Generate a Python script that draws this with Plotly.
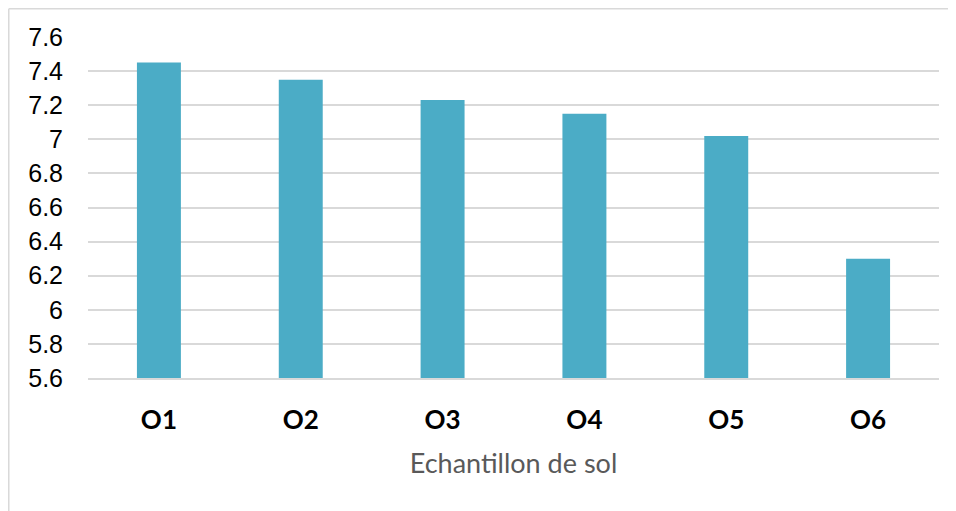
import plotly.graph_objects as go

categories = ["O1", "O2", "O3", "O4", "O5", "O6"]
values = [7.45, 7.35, 7.23, 7.15, 7.02, 6.30]
y_ticks = [5.6, 5.8, 6.0, 6.2, 6.4, 6.6, 6.8, 7.0, 7.2, 7.4, 7.6]
y_tick_labels = ["5.6", "5.8", "6", "6.2", "6.4", "6.6", "6.8", "7", "7.2", "7.4", "7.6"]
x_title = "Echantillon de sol"

fig = go.Figure(go.Bar(
    x=categories, y=values,
    marker=dict(color="#4BACC6", line=dict(width=0)),
))

fig.update_layout(
    width=948, height=503,
    margin=dict(l=80, r=17, t=29, b=133),
    paper_bgcolor="white", plot_bgcolor="white",
    bargap=0.69,
    showlegend=False,
    shapes=[
        dict(type="line", xref="paper", yref="paper", x0=-0.0931, x1=1.2, y0=1.0828, y1=1.0828,
             line=dict(color="#D9D9D9", width=1.5)),
        dict(type="line", xref="paper", yref="paper", x0=-0.0931, x1=-0.0931, y0=1.0828, y1=-0.5,
             line=dict(color="#D9D9D9", width=1.5)),
    ],
)

fig.update_yaxes(
    range=[5.6, 7.6], tickvals=y_ticks, ticktext=y_tick_labels,
    showgrid=True, gridcolor="#D9D9D9", gridwidth=1.5,
    zeroline=False, showline=False,
    tickfont=dict(family="Liberation Sans, Arial", size=25, color="#000000"),
    ticklabelstandoff=24,
)

fig.update_xaxes(
    showline=True, linecolor="#D9D9D9", linewidth=1.5,
    showgrid=False,
    tickfont=dict(family="Lato", size=26, color="#000000", weight="bold"),
    ticklabelstandoff=18,
    title=dict(text=x_title, font=dict(family="Lato", size=27, color="#595959"), standoff=20),
)

fig.write_html("out.html")
